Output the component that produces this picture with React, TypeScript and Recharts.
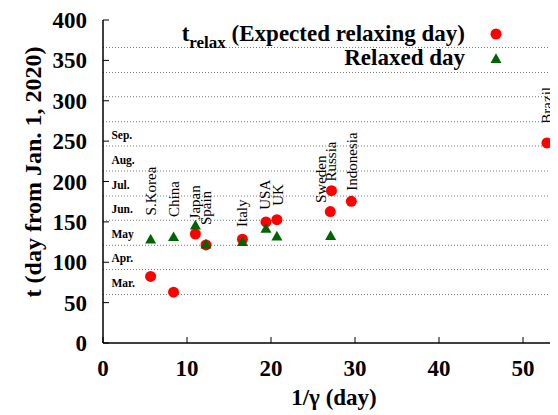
import {
  ScatterChart,
  Scatter,
  XAxis,
  YAxis,
  ReferenceLine,
  Legend,
} from "recharts";

const FONT = '"Liberation Serif", "Times New Roman", serif';

// expected relaxing day per country
const countries = ["S.Korea", "China", "Japan", "Spain", "Italy", "USA", "UK", "Sweden", "Russia", "Indonesia", "Brazil"];
const invGamma = [5.67, 8.4, 11.0, 12.26, 16.6, 19.4, 20.7, 27.06, 27.2, 29.56, 52.85];
const tRelax = [82.5, 63, 135, 121.5, 128.5, 150, 152.7, 162.8, 188.6, 175.4, 247.7];

// day the country actually relaxed
const relaxedCountries = ["S.Korea", "China", "Japan", "Spain", "Italy", "USA", "UK", "Sweden"];
const relaxedInvGamma = [5.67, 8.4, 11.0, 12.26, 16.6, 19.4, 20.7, 27.1];
const relaxedDay = [129, 132, 146.5, 123, 125.8, 142.4, 132.9, 133.3];

// where the vertical country names start (data units)
const labelX = [5.67, 8.4, 11.0, 12.26, 16.6, 19.3, 20.8, 25.9, 27.2, 29.6, 52.9];
const labelY = [158, 156, 153, 146, 143.7, 165, 170, 173.4, 200, 188.6, 271.6];

// month bands
const monthStarts = [60, 91, 121, 152, 182, 213, 244, 274, 305, 335, 366];
const months = ["Mar.", "Apr.", "May", "Jun.", "Jul.", "Aug.", "Sep."];
const monthMid = [74, 105, 135, 166, 196, 227, 258];
const monthLabelX = 1.0;

const xTicks = [0, 10, 20, 30, 40, 50];
const yTicks = [0, 50, 100, 150, 200, 250, 300, 350, 400];

const redData = countries.map((name, i) => ({ name, x: invGamma[i], y: tRelax[i] }));
const greenData = relaxedCountries.map((name, i) => ({ name, x: relaxedInvGamma[i], y: relaxedDay[i] }));
const labelData = countries.map((name, i) => ({ name, x: labelX[i], y: labelY[i] }));
const monthData = months.map((name, i) => ({ name, x: monthLabelX, y: monthMid[i] }));

const axisStroke = { stroke: "#000", strokeWidth: 1.5 };
const titleStyle = { fill: "#000", fontSize: 23, fontWeight: "bold", fontFamily: FONT };

function XTick(props: any) {
  const { x, y, payload } = props;
  return (
    <text x={x} y={y + 16} textAnchor="middle" style={titleStyle}>
      {payload.value}
    </text>
  );
}

function YTick(props: any) {
  const { x, y, payload } = props;
  return (
    <text x={x} y={y + 8} textAnchor="end" style={titleStyle}>
      {payload.value}
    </text>
  );
}

function RedDot(props: any) {
  const { cx, cy } = props;
  return <circle cx={cx} cy={cy} r={5.5} fill="#ff0000" />;
}

function GreenTriangle(props: any) {
  const { cx, cy } = props;
  const w = 5.5;
  return (
    <polygon
      points={`${cx - w},${cy + 4.7} ${cx + w},${cy + 4.7} ${cx},${cy - 5}`}
      fill="#006400"
    />
  );
}

function CountryText(props: any) {
  const { cx, cy } = props;
  const name = props.payload?.name ?? props.name;
  return (
    <text
      x={cx}
      y={cy}
      transform={`rotate(-90, ${cx}, ${cy})`}
      textAnchor="start"
      dominantBaseline="central"
      style={{ fontFamily: FONT, fontSize: 15, fill: "#000" }}
    >
      {name}
    </text>
  );
}

function MonthText(props: any) {
  const { cx, cy } = props;
  const name = props.payload?.name ?? props.name;
  return (
    <text
      x={cx}
      y={cy}
      textAnchor="start"
      dominantBaseline="central"
      style={{ fontFamily: FONT, fontWeight: "bold", fontSize: 11.5, fill: "#000" }}
    >
      {name}
    </text>
  );
}

function renderLegend() {
  const row = {
    display: "flex",
    justifyContent: "flex-end",
    alignItems: "center",
    height: 23.5,
  } as const;
  return (
    <div style={{ fontFamily: FONT, fontWeight: "bold", fontSize: 23, color: "#000" }}>
      <div style={row}>
        <span style={{ whiteSpace: "nowrap", lineHeight: "23px" }}>
          t<span style={{ fontSize: 17, position: "relative", top: 7 }}>relax</span> (Expected relaxing day)
        </span>
        <svg width={12} height={12} style={{ marginLeft: 25 }}>
          <circle cx={6} cy={6} r={5.5} fill="#ff0000" />
        </svg>
      </div>
      <div style={row}>
        <span style={{ whiteSpace: "nowrap", lineHeight: "23px" }}>Relaxed day</span>
        <svg width={12} height={12} style={{ marginLeft: 25 }}>
          <polygon points="0.5,11 11.5,11 6,1.2" fill="#006400" />
        </svg>
      </div>
    </div>
  );
}

export default function App() {
  return (
    <div style={{ width: 550, height: 407, overflow: "hidden", position: "relative", fontFamily: FONT }}>
      <ScatterChart width={562} height={402} margin={{ top: 12, right: 5, left: 0, bottom: 5 }}>
        <XAxis
          type="number"
          dataKey="x"
          domain={[0, 55]}
          ticks={xTicks}
          height={62}
          tickSize={-6}
          tickMargin={23}
          tick={<XTick />}
          axisLine={axisStroke}
          tickLine={{ stroke: "#000" }}
          label={{
            value: "1/γ (day)",
            position: "insideBottom",
            offset: 0,
            style: titleStyle,
          }}
        />
        <XAxis
          xAxisId="top"
          orientation="top"
          type="number"
          domain={[0, 55]}
          ticks={xTicks}
          height={0}
          tickSize={-6}
          tick={false}
          axisLine={axisStroke}
          tickLine={{ stroke: "#000" }}
        />
        <YAxis
          type="number"
          dataKey="y"
          domain={[0, 400]}
          ticks={yTicks}
          width={95}
          tickSize={-6}
          tickMargin={22}
          tick={<YTick />}
          axisLine={axisStroke}
          tickLine={{ stroke: "#000" }}
          label={{
            value: "t (day from Jan. 1, 2020)",
            angle: -90,
            position: "center",
            dx: -23.5,
            dy: -9.5,
            style: { ...titleStyle, fontSize: 24 },
          }}
        />
        <YAxis
          yAxisId="right"
          orientation="right"
          type="number"
          domain={[0, 400]}
          ticks={yTicks}
          width={0}
          tickSize={-6}
          tick={false}
          axisLine={axisStroke}
          tickLine={{ stroke: "#000" }}
        />

        {monthStarts.map((d) => (
          <ReferenceLine key={d} y={d} stroke="#777" strokeDasharray="1 2" />
        ))}

        <Legend
          layout="vertical"
          align="center"
          verticalAlign="middle"
          content={renderLegend}
          wrapperStyle={{ position: "absolute", top: 14.5, left: 0, width: 494 }}
        />

        <Scatter name="tRelax" data={redData} shape={RedDot} isAnimationActive={false} />
        <Scatter name="relaxed" data={greenData} shape={GreenTriangle} isAnimationActive={false} />
        <Scatter name="countries" data={labelData} shape={CountryText} isAnimationActive={false} />
        <Scatter name="months" data={monthData} shape={MonthText} isAnimationActive={false} />
      </ScatterChart>
    </div>
  );
}
